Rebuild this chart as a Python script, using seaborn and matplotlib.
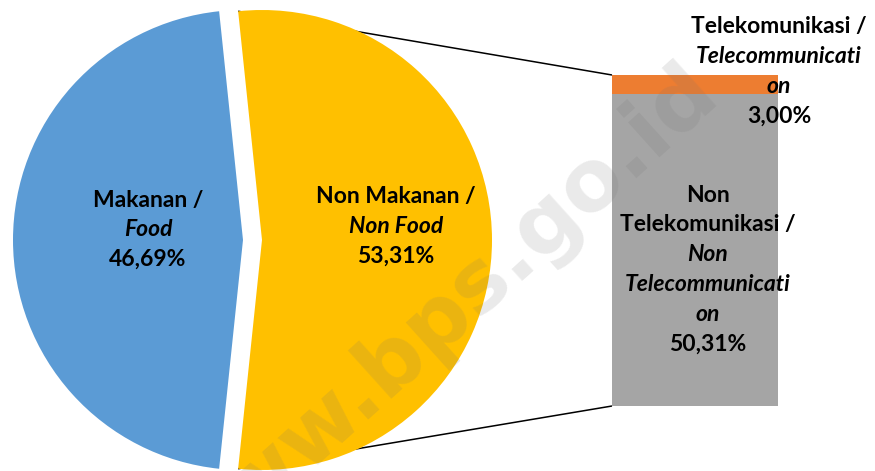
import matplotlib
matplotlib.use("Agg")
import matplotlib.pyplot as plt
import numpy as np
import pandas as pd
import seaborn as sns

# Household expenditure shares (%)
categories = ["Makanan / Food", "Non Makanan / Non Food"]
shares = [46.69, 53.31]
share_labels = ["46,69%", "53,31%"]

# Breakdown of the non-food share
sub_categories = ["Non Telekomunikasi / Non Telecommunication",
                  "Telekomunikasi / Telecommunication"]
sub_shares = [50.31, 3.00]
sub_share_labels = ["50,31%", "3,00%"]

pie_colors = ["#5B9BD5", "#FFC000"]
sub_colors = ["#A5A5A5", "#ED7D31"]

sns.set_theme(style="white")
plt.rcParams["font.family"] = ["Lato", "DejaVu Sans"]

W, H = 875, 471
fig = plt.figure(figsize=(W / 100, H / 100), dpi=100)
fig.patch.set_facecolor("white")

# Main canvas in pixel-like units (y up); kept above the bar axes
ax = fig.add_axes([0, 0, 1, 1])
ax.set_zorder(2)
ax.patch.set_alpha(0)
radius = 230
center = (243, 231)
explode_px = 19
start = 180 - shares[0] / 100 * 360 / 2   # food slice centred on the left
wedges, _ = ax.pie(shares, colors=pie_colors, radius=radius, center=center,
                   startangle=start, explode=[0, explode_px],
                   wedgeprops=dict(linewidth=0))
ax.set_xlim(0, W)
ax.set_ylim(0, H)
ax.set_aspect("equal")
ax.axis("off")

# Stacked bar for the non-food breakdown
bx0, bx1, by0, by1 = 612, 778, 65, 396
ax_bar = fig.add_axes([bx0 / W, by0 / H, (bx1 - bx0) / W, (by1 - by0) / H])
ax_bar.set_zorder(1)
total = sum(sub_shares)
df = pd.DataFrame({"group": ["Non Makanan"], "total": [total],
                   "base": [sub_shares[0]]})
sns.barplot(data=df, x="group", y="total", color=sub_colors[1], width=1,
            saturation=1, linewidth=0, errorbar=None, ax=ax_bar)
sns.barplot(data=df, x="group", y="base", color=sub_colors[0], width=1,
            saturation=1, linewidth=0, errorbar=None, ax=ax_bar)
ax_bar.set_xlim(-0.5, 0.5)
ax_bar.set_ylim(0, total)
ax_bar.axis("off")

# Connector lines from the non-food slice to the bar corners
yw = wedges[1]
cx, cy = yw.center
to_main = ax.transData.inverted()
for ang, yval in [(yw.theta2, total), (yw.theta1, 0)]:
    px = cx + yw.r * np.cos(np.radians(ang))
    py = cy + yw.r * np.sin(np.radians(ang))
    corner = to_main.transform(ax_bar.transData.transform((-0.5, yval)))
    ax.plot([px, corner[0]], [py, corner[1]], color="black", lw=1.1,
            zorder=0.5, solid_capstyle="butt")

FS = 16.5


def stacked_label(x, y_top, lines, step=29.8):
    for i, (txt, italic) in enumerate(lines):
        ax.text(x, H - (y_top + i * step), txt, ha="center", va="center",
                fontsize=FS, fontweight="bold",
                fontstyle="italic" if italic else "normal",
                color="black", zorder=6)


stacked_label(148, 200, [("Makanan /", False), ("Food", True),
                         (share_labels[0], False)])
stacked_label(396, 197, [("Non Makanan /", False), ("Non Food", True),
                         (share_labels[1], False)])
stacked_label(779, 27, [("Telekomunikasi /", False), ("Telecommunicati", True),
                        ("on", True), (sub_share_labels[1], False)])
stacked_label(708, 195, [("Non", False), ("Telekomunikasi /", False),
                         ("Non", True), ("Telecommunicati", True),
                         ("on", True), (sub_share_labels[0], False)])

# Watermark
fig.text(440 / W, 150 / H, "www.bps.go.id", rotation=42, ha="center",
         va="center", rotation_mode="anchor", fontsize=62, fontweight="bold",
         family="DejaVu Sans", color=(0.45, 0.45, 0.45), alpha=0.15,
         zorder=10)

fig.savefig("out.png", dpi=100, facecolor="white")
